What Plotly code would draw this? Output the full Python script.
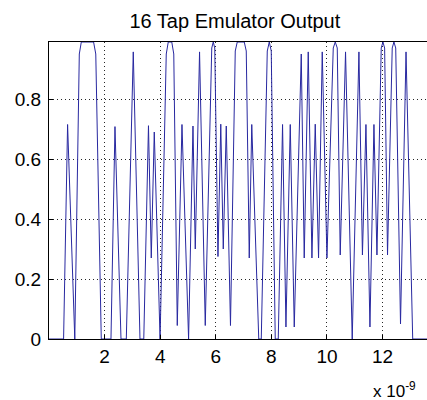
import plotly.graph_objects as go

# Emulator output waveform: sample times (ns) and normalised amplitude
time_ns = [
    0.000, 0.525, 0.669, 0.928, 1.090, 1.162, 1.604, 1.683, 1.881, 2.230,
    2.374, 2.590, 2.781, 3.032, 3.273, 3.410, 3.579, 3.680, 3.788, 3.996,
    4.219, 4.291, 4.417, 4.489, 4.615, 4.784, 5.022, 5.180, 5.263, 5.417,
    5.622, 5.856, 5.910, 5.964, 6.079, 6.180, 6.270, 6.378, 6.529, 6.701,
    6.773, 7.025, 7.097, 7.205, 7.295, 7.547, 7.637, 7.853, 7.925, 7.996,
    8.140, 8.248, 8.403, 8.525, 8.680, 8.824, 9.076, 9.183, 9.327, 9.460,
    9.579, 9.698, 9.831, 10.000, 10.227, 10.299, 10.371, 10.478, 10.669, 10.910,
    11.151, 11.277, 11.403, 11.547, 11.691, 11.799, 11.953, 12.014, 12.076, 12.180,
    12.349, 12.410, 12.475, 12.647, 12.845, 13.086, 13.700,
]
amplitude = [
    0.000, 0.000, 0.715, 0.000, 0.950, 0.990, 0.990, 0.950, 0.000, 0.000,
    0.708, 0.000, 0.000, 0.957, 0.000, 0.000, 0.711, 0.270, 0.690, 0.000,
    0.950, 0.990, 0.990, 0.950, 0.045, 0.715, 0.000, 0.710, 0.300, 0.957,
    0.045, 0.970, 0.990, 0.970, 0.275, 0.716, 0.300, 0.710, 0.045, 0.960,
    0.990, 0.990, 0.960, 0.270, 0.715, 0.000, 0.000, 0.960, 0.990, 0.960,
    0.000, 0.000, 0.715, 0.040, 0.715, 0.040, 0.950, 0.270, 0.957, 0.270,
    0.716, 0.270, 0.957, 0.270, 0.970, 0.990, 0.970, 0.280, 0.957, 0.000,
    0.957, 0.280, 0.715, 0.040, 0.715, 0.280, 0.970, 0.990, 0.970, 0.280,
    0.970, 0.990, 0.970, 0.050, 0.957, 0.000, 0.000,
]

x_ticks = [2, 4, 6, 8, 10, 12]
y_ticks = [0, 0.2, 0.4, 0.6, 0.8]
y_tick_text = ["0", "0.2", "0.4", "0.6", "0.8"]

FONT = "Liberation Sans, Arial, sans-serif"

fig = go.Figure()
fig.add_trace(go.Scatter(
    x=time_ns, y=amplitude, mode="lines",
    line=dict(color="rgb(40,40,160)", width=1),
    showlegend=False, hoverinfo="skip",
))

axis_common = dict(
    showline=True, linecolor="black", linewidth=1, mirror=True,
    ticks="inside", ticklen=4, tickcolor="black",
    showgrid=True, gridcolor="rgba(0,0,0,0.85)", gridwidth=1, griddash="1px,3px",
    zeroline=False,
    tickfont=dict(family=FONT, size=19, color="black"),
)

fig.update_layout(
    width=427, height=400,
    margin=dict(l=49, r=0, t=42, b=61),
    paper_bgcolor="white", plot_bgcolor="white",
    title=dict(
        text="16 Tap Emulator Output",
        font=dict(family=FONT, size=20, color="black"),
        xref="container", x=0.55, xanchor="center",
        yref="container", y=1 - 21 / 400, yanchor="middle",
    ),
    xaxis=dict(range=[0, 13.6], tickvals=x_ticks,
               ticktext=[str(v) for v in x_ticks], **axis_common),
    yaxis=dict(range=[0, 0.99], tickvals=y_ticks, ticktext=y_tick_text,
               ticklabelstandoff=3, **axis_common),
    annotations=[dict(
        text="x 10<sup>-9</sup>", xref="paper", yref="paper",
        x=0.975, y=0, xanchor="right", yanchor="top", yshift=-38,
        showarrow=False, font=dict(family=FONT, size=17, color="black"),
    )],
)

fig.write_html("out.html")
